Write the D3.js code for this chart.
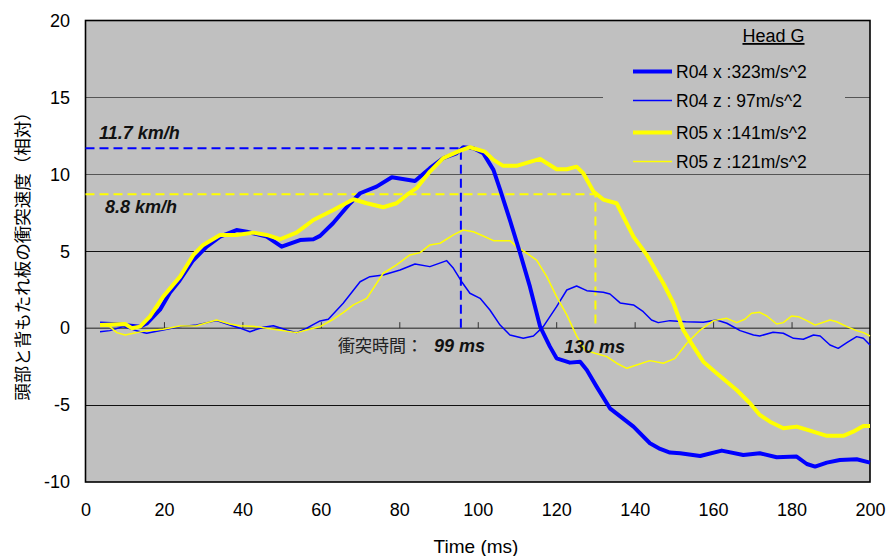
<!DOCTYPE html>
<html><head><meta charset="utf-8">
<script src="https://cdn.jsdelivr.net/npm/d3@7"></script>
<style>body{margin:0;background:#fff}svg{display:block}</style>
</head><body>
<script>
// ---- data (time in ms, relative velocity) ----
const xTicks = [0,20,40,60,80,100,120,140,160,180,200];
const yTicks = [-10,-5,0,5,10,15,20];
const seriesNames = ["R04 x :323m/s^2","R04 z : 97m/s^2","R05 x :141m/s^2","R05 z :121m/s^2"];

const r04x = [[3.7,0.3],[8,0.25],[13.9,0.1],[15.6,0.3],[19,1.2],[21.5,2.3],[24,3.1],[27.4,4.4],[30.9,5.3],[34.3,5.95],[38.5,6.38],[41.1,6.27],[46.2,5.95],[50,5.3],[54.7,5.73],[58.1,5.78],[59.8,6.0],[63.1,6.82],[67.4,8.1],[70,8.77],[74.2,9.2],[78.1,9.81],[84,9.57],[87.8,10.4],[91.2,11.05],[94.6,11.37],[96.3,11.76],[98.9,11.7],[101.4,11.37],[104,10.29],[105.7,9.0],[108.2,7.03],[110.8,4.87],[113.3,2.7],[115.9,0.1],[118.4,-1.2],[120.1,-1.96],[123.5,-2.24],[126.1,-2.18],[127.8,-2.72],[130.3,-3.8],[133.7,-5.21],[139.7,-6.4],[143.9,-7.48],[146.5,-7.85],[149,-8.09],[151.6,-8.13],[156.7,-8.31],[162.2,-7.96],[167.7,-8.24],[171.9,-8.13],[176.2,-8.39],[181.3,-8.35],[183.9,-8.83],[186,-9.0],[189,-8.74],[192.3,-8.57],[196.6,-8.52],[200,-8.74]];

const r04z = [[3.7,-0.23],[6.2,-0.16],[9.6,0.1],[13.9,-0.23],[15.6,-0.33],[19.8,-0.12],[24.1,0.1],[28.3,0.2],[33.4,0.49],[36.8,0.2],[39.4,0.0],[41.9,-0.23],[45.3,0.06],[47.9,0.16],[51.3,-0.12],[53.8,-0.29],[56.4,0.0],[59.8,0.47],[61.9,0.58],[65.7,1.62],[70,3.02],[72.5,3.35],[75.9,3.46],[80.2,3.78],[84,4.17],[87.8,4.0],[92.1,4.39],[93.8,3.89],[95.9,3.02],[98,2.27],[100.6,1.94],[103.1,1.18],[105.7,0.2],[108.2,-0.44],[111.6,-0.66],[114.2,-0.51],[116.7,0.1],[120.1,1.4],[122.7,2.48],[125.2,2.74],[127.8,2.44],[132,2.33],[133.7,2.22],[136.3,1.64],[139.7,1.51],[142.2,1.07],[144.3,0.53],[146,0.36],[149,0.49],[153,0.42],[157.5,0.38],[160.9,0.53],[163.5,0.32],[166.9,-0.16],[170.3,-0.44],[171.9,-0.51],[175.3,-0.27],[177.9,-0.33],[180.5,-0.66],[183,-0.72],[185.6,-0.44],[187.3,-0.51],[189.8,-1.09],[191.9,-1.31],[194.1,-0.94],[196.6,-0.55],[198.3,-0.66],[200,-1.09]];

const r05x = [[3.7,0.2],[10.1,0.27],[11.8,0.0],[13.9,0.1],[16.4,0.75],[19.8,2.05],[24.1,3.35],[27.5,4.76],[30,5.41],[34.3,6.06],[38.5,6.06],[42.8,6.21],[46.2,6.06],[49.6,5.78],[53.8,6.21],[58.1,7.03],[63.2,7.68],[68.3,8.38],[71.7,8.12],[75.9,7.86],[79.3,8.12],[81.9,8.66],[84.4,9.1],[87.8,10.18],[91.2,11.05],[95.5,11.54],[98,11.76],[101.8,11.48],[104,10.94],[106.5,10.55],[109.9,10.55],[115.9,11.0],[120.1,10.33],[122.7,10.33],[125.2,10.5],[126.9,10.07],[129.5,8.88],[132,8.36],[135.4,8.12],[139.7,5.95],[143.1,4.76],[147.3,2.92],[149.9,1.62],[152.4,-0.12],[155,-1.2],[157.5,-2.18],[160.9,-2.93],[166,-4.02],[169.4,-4.88],[171.9,-5.64],[174.5,-6.08],[177.9,-6.51],[181.3,-6.4],[184.7,-6.66],[189,-7.0],[193.2,-7.0],[195.7,-6.73],[198.3,-6.36],[200,-6.36]];

const r05z = [[3.7,0.2],[6.2,0.1],[8,-0.29],[10.1,-0.44],[11.3,-0.38],[15.6,-0.16],[19.8,-0.07],[24.1,0.14],[28.3,0.16],[33.4,0.53],[36.8,0.27],[39.4,0.16],[43.6,0.1],[47.9,-0.07],[53.8,-0.29],[58.1,0.0],[59.8,0.1],[63.2,0.58],[65.7,1.01],[68.3,1.51],[71.7,1.94],[75.9,3.57],[79.3,4.11],[82.7,4.76],[85.3,4.91],[87.8,5.41],[90.4,5.52],[93.8,6.06],[96.3,6.38],[98.9,6.27],[101.4,5.99],[104,5.69],[108.2,5.69],[109.9,5.3],[112.5,4.87],[115,4.43],[117.6,3.35],[120.1,2.05],[122.7,0.86],[125.2,-0.5],[127.3,-1.42],[129.9,-1.63],[132.9,-1.85],[135.4,-2.28],[138,-2.61],[140.5,-2.39],[143.9,-2.11],[147.3,-2.28],[150.3,-1.96],[153.3,-0.98],[156.7,-0.12],[160.1,0.49],[163.5,0.64],[166,0.36],[168.1,0.58],[169.8,0.97],[171.9,1.03],[173.7,0.79],[176.2,0.27],[177.9,0.36],[180,0.79],[181.7,0.75],[183.9,0.49],[186,0.2],[189.8,0.53],[191.5,0.42],[194.1,0.1],[196.6,-0.16],[198.3,-0.29],[200,-0.51]];

const r04Speed = 11.7, r04Time = 95.7;   // blue dashed guide
const r05Speed = 8.7,  r05Time = 130;    // yellow dashed guide

// ---- drawing ----
const W = 888, H = 556;
const m = {l:85.5, r:870, t:20.5, b:482};
const FONT = "'Liberation Sans', Arial, sans-serif";
const svg = d3.select("body").append("svg").attr("width",W).attr("height",H)
  .style("font-family",FONT);

const x = d3.scaleLinear().domain([0,200]).range([m.l,m.r]);
const y = d3.scaleLinear().domain([-10,20]).range([m.b,m.t]);

svg.append("rect").attr("x",m.l).attr("y",m.t).attr("width",m.r-m.l).attr("height",m.b-m.t)
  .attr("fill","#c0c0c0");

// gridlines
const grid = svg.append("g");
grid.selectAll("line").data([-5,5,10,15]).join("line")
  .attr("x1",m.l).attr("x2",m.r).attr("y1",d=>Math.round(y(d))+0.5).attr("y2",d=>Math.round(y(d))+0.5)
  .attr("stroke",d=> (d===5||d===-5)?"#111":"#555").attr("stroke-width",1.2);

// legend box background (hides gridline behind it)
const lg = svg.append("g");
lg.append("rect").attr("x",603).attr("y",m.t+1).attr("width",242).attr("height",151).attr("fill","#c0c0c0");

// zero axis with ticks
svg.append("line").attr("x1",m.l).attr("x2",m.r).attr("y1",y(0)).attr("y2",y(0))
  .attr("stroke","#555").attr("stroke-width",1.5);
const xAxisZero = d3.axisTop(x).tickValues(xTicks.slice(1,-1)).tickSize(6).tickFormat("");
svg.append("g").attr("transform",`translate(0,${y(0)})`).call(xAxisZero)
  .call(g=>g.select(".domain").remove())
  .call(g=>g.selectAll("line").attr("stroke","#333").attr("stroke-width",1));

// border
svg.append("rect").attr("x",m.l).attr("y",m.t).attr("width",m.r-m.l).attr("height",m.b-m.t)
  .attr("fill","none").attr("stroke","#000").attr("stroke-width",1.6);

// axis labels
const yAx = d3.axisLeft(y).tickValues(yTicks).tickSize(0).tickPadding(15.5).tickFormat(d=>String(d));
svg.append("g").attr("transform",`translate(${m.l},0)`).call(yAx)
  .call(g=>g.select(".domain").remove())
  .call(g=>g.selectAll("text").attr("font-size",18).attr("fill","#000").attr("font-family",FONT));
const xAx = d3.axisBottom(x).tickValues(xTicks).tickSize(0).tickPadding(21).tickFormat(d=>String(d));
svg.append("g").attr("transform",`translate(0,${m.b})`).call(xAx)
  .call(g=>g.select(".domain").remove())
  .call(g=>g.selectAll("text").attr("font-size",18).attr("fill","#000").attr("font-family",FONT));

svg.append("text").attr("x",476).attr("y",553).attr("text-anchor","middle")
  .attr("font-size",19).text("Time (ms)");
svg.append("text").attr("transform","translate(29,252) rotate(-90)").attr("text-anchor","middle")
  .attr("font-size",17.5).attr("font-family","'Noto Sans CJK JP', sans-serif")
  .text("頭部と背もたれ板の衝突速度（相対）");

// guides
const dash = "9,5";
svg.append("path").attr("d",`M${x(0)},${y(r04Speed)}H${x(r04Time)}V${y(0)}`)
  .attr("fill","none").attr("stroke","#0000ff").attr("stroke-width",2).attr("stroke-dasharray",dash);
svg.append("path").attr("d",`M${x(0)},${y(r05Speed)}H${x(r05Time)}V${y(0)}`)
  .attr("fill","none").attr("stroke","#ffff00").attr("stroke-width",2).attr("stroke-dasharray",dash);

// series
const line = d3.line().x(d=>x(d[0])).y(d=>y(d[1]));
const specs = [
  {d:r04z, c:"#0000ff", w:1.5},
  {d:r05z, c:"#ffff00", w:1.5},
  {d:r04x, c:"#0000ff", w:4},
  {d:r05x, c:"#ffff00", w:4},
];
svg.append("g").selectAll("path").data(specs).join("path")
  .attr("d",s=>line(s.d)).attr("fill","none").attr("stroke",s=>s.c).attr("stroke-width",s=>s.w)
  .attr("stroke-linejoin","round");

// annotations
const bi = (t,xx,yy)=>svg.append("text").attr("x",xx).attr("y",yy).attr("font-size",18)
  .attr("font-weight","bold").attr("font-style","italic").attr("fill","#111").text(t);
bi("11.7 km/h",99,139);
bi("8.8 km/h",105,213);
bi("99 ms",434,352);
bi("130 ms",564,353);
svg.append("text").attr("x",338).attr("y",352).attr("font-size",17)
  .attr("font-family","'Noto Sans CJK JP', sans-serif").attr("fill","#222").text("衝突時間：");

// legend
lg.append("text").attr("x",773.5).attr("y",42).attr("text-anchor","middle").attr("font-size",18)
  .attr("text-decoration","underline").text("Head G");
const lspec = [
  {c:"#0000ff",w:4},{c:"#0000ff",w:1.5},{c:"#ffff00",w:4},{c:"#ffff00",w:1.5}
];
const rows = [71.5,100.5,132.5,161.5];
lspec.forEach((s,i)=>{
  lg.append("line").attr("x1",633).attr("x2",672).attr("y1",rows[i]).attr("y2",rows[i])
    .attr("stroke",s.c).attr("stroke-width",s.w);
  lg.append("text").attr("x",676).attr("y",rows[i]+6).attr("font-size",17.5).text(seriesNames[i]);
});
</script>
</body></html>
